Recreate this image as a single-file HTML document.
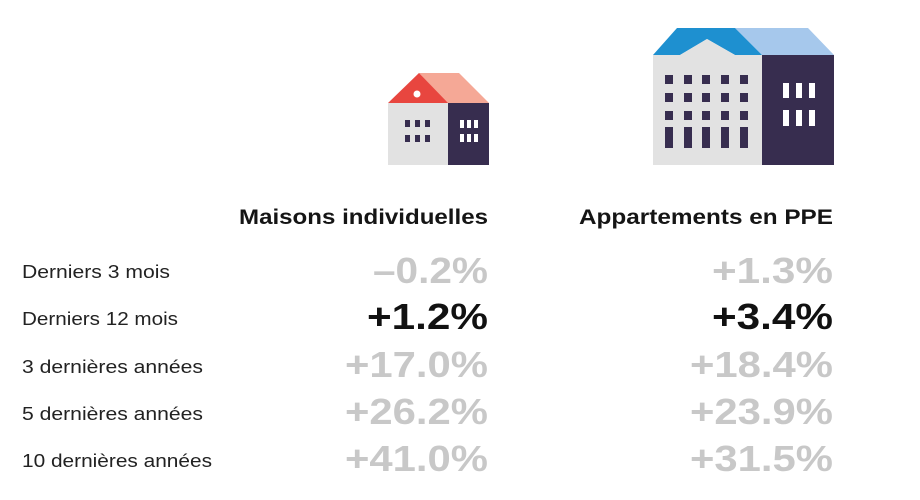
<!DOCTYPE html>
<html><head><meta charset="utf-8"><style>
html,body{margin:0;padding:0;background:#fff;}
svg{display:block;}
text{font-family:"Liberation Sans",sans-serif;}
</style></head><body>
<svg width="920" height="500" viewBox="0 0 920 500" xmlns="http://www.w3.org/2000/svg">
<rect x="388" y="103" width="60" height="62" fill="#e2e2e2"/>
<rect x="448" y="103" width="41" height="62" fill="#372d4f"/>
<polygon points="419,73 459,73 489,103 447,103" fill="#f5a896"/>
<polygon points="388,103 419,73 448,103" fill="#e8463f"/>
<circle cx="417" cy="94" r="3.5" fill="#fff"/>
<g fill="#372d4f">
<rect x="405" y="120" width="5" height="7"/><rect x="415" y="120" width="5" height="7"/><rect x="425" y="120" width="5" height="7"/>
<rect x="405" y="135" width="5" height="7"/><rect x="415" y="135" width="5" height="7"/><rect x="425" y="135" width="5" height="7"/>
</g>
<g fill="#fff">
<rect x="460" y="120" width="4" height="8"/><rect x="467" y="120" width="4" height="8"/><rect x="474" y="120" width="4" height="8"/>
<rect x="460" y="134" width="4" height="8"/><rect x="467" y="134" width="4" height="8"/><rect x="474" y="134" width="4" height="8"/>
</g>
<rect x="653" y="55" width="109" height="110" fill="#e2e2e2"/>
<rect x="762" y="55" width="72" height="110" fill="#372d4f"/>
<polygon points="735,28 808,28 834,55 762,55" fill="#a6c8ec"/>
<polygon points="653,55 677,28 735,28 762,55 735,55 707,39 680,55" fill="#1e90d0"/>
<polygon points="680,55 707,39 735,55" fill="#e2e2e2"/>
<g fill="#372d4f">
<rect x="665" y="75" width="8" height="9"/><rect x="684" y="75" width="8" height="9"/><rect x="702" y="75" width="8" height="9"/><rect x="721" y="75" width="8" height="9"/><rect x="740" y="75" width="8" height="9"/>
<rect x="665" y="93" width="8" height="9"/><rect x="684" y="93" width="8" height="9"/><rect x="702" y="93" width="8" height="9"/><rect x="721" y="93" width="8" height="9"/><rect x="740" y="93" width="8" height="9"/>
<rect x="665" y="111" width="8" height="9"/><rect x="684" y="111" width="8" height="9"/><rect x="702" y="111" width="8" height="9"/><rect x="721" y="111" width="8" height="9"/><rect x="740" y="111" width="8" height="9"/>
<rect x="665" y="127" width="8" height="21"/><rect x="684" y="127" width="8" height="21"/><rect x="702" y="127" width="8" height="21"/><rect x="721" y="127" width="8" height="21"/><rect x="740" y="127" width="8" height="21"/>
</g>
<g fill="#fff">
<rect x="783" y="83" width="6" height="15"/><rect x="796" y="83" width="6" height="15"/><rect x="809" y="83" width="6" height="15"/>
<rect x="783" y="110" width="6" height="16"/><rect x="796" y="110" width="6" height="16"/><rect x="809" y="110" width="6" height="16"/>
</g>
<text x="488" y="224" text-anchor="end" font-size="21" font-weight="bold" fill="#151515" textLength="249" lengthAdjust="spacingAndGlyphs">Maisons individuelles</text>
<text x="833" y="224" text-anchor="end" font-size="21" font-weight="bold" fill="#151515" textLength="254" lengthAdjust="spacingAndGlyphs">Appartements en PPE</text>
<g font-size="18" fill="#222">
<text x="22" y="278" textLength="148" lengthAdjust="spacingAndGlyphs">Derniers 3 mois</text>
<text x="22" y="325" textLength="156" lengthAdjust="spacingAndGlyphs">Derniers 12 mois</text>
<text x="22" y="373" textLength="181" lengthAdjust="spacingAndGlyphs">3 dernières années</text>
<text x="22" y="420" textLength="181" lengthAdjust="spacingAndGlyphs">5 dernières années</text>
<text x="22" y="467" textLength="190" lengthAdjust="spacingAndGlyphs">10 dernières années</text>
</g>
<g font-size="36" font-weight="bold" text-anchor="end" lengthAdjust="spacingAndGlyphs">
<text x="488" y="283" fill="#c8c8c8" textLength="115" lengthAdjust="spacingAndGlyphs">–0.2%</text>
<text x="488" y="329" fill="#111" textLength="121" lengthAdjust="spacingAndGlyphs">+1.2%</text>
<text x="488" y="377" fill="#c8c8c8" textLength="143" lengthAdjust="spacingAndGlyphs">+17.0%</text>
<text x="488" y="424" fill="#c8c8c8" textLength="143" lengthAdjust="spacingAndGlyphs">+26.2%</text>
<text x="488" y="471" fill="#c8c8c8" textLength="143" lengthAdjust="spacingAndGlyphs">+41.0%</text>
<text x="833" y="283" fill="#c8c8c8" textLength="121" lengthAdjust="spacingAndGlyphs">+1.3%</text>
<text x="833" y="329" fill="#111" textLength="121" lengthAdjust="spacingAndGlyphs">+3.4%</text>
<text x="833" y="377" fill="#c8c8c8" textLength="143" lengthAdjust="spacingAndGlyphs">+18.4%</text>
<text x="833" y="424" fill="#c8c8c8" textLength="143" lengthAdjust="spacingAndGlyphs">+23.9%</text>
<text x="833" y="471" fill="#c8c8c8" textLength="143" lengthAdjust="spacingAndGlyphs">+31.5%</text>
</g>
</svg>
</body></html>
